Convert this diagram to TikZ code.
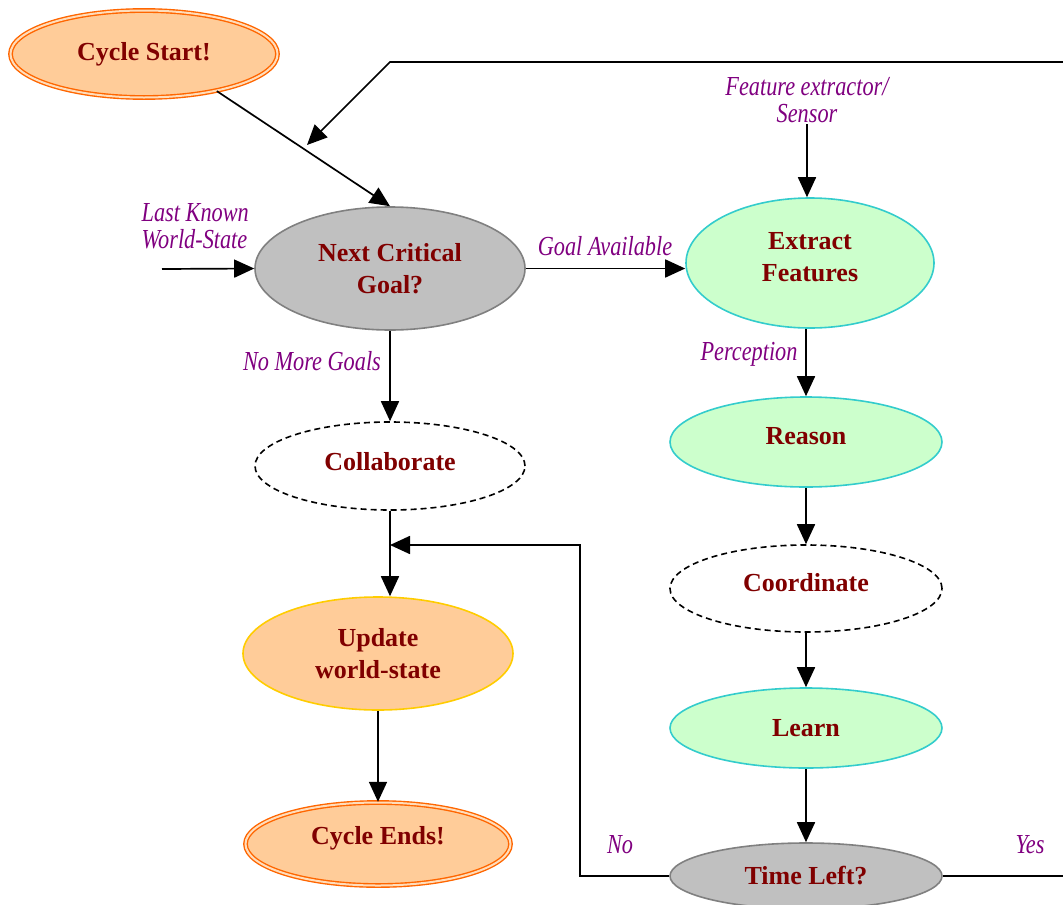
\documentclass[tikz,border=0pt]{standalone}
\usepackage{fontspec}
\setmainfont{Liberation Serif}
\newfontfamily\lblfont[FakeStretch=0.81]{Liberation Serif}
\usetikzlibrary{shapes.geometric,arrows.meta}

\definecolor{nodetext}{HTML}{800000}
\definecolor{lbltext}{HTML}{800080}
\definecolor{termline}{HTML}{FF6600}
\definecolor{termfill}{HTML}{FFCC99}
\definecolor{termgap}{HTML}{FFDDBB}
\definecolor{greenfill}{HTML}{CCFFCC}
\definecolor{greenline}{HTML}{33CCCC}
\definecolor{grayfill}{HTML}{C0C0C0}
\definecolor{grayline}{HTML}{808080}
\definecolor{updline}{HTML}{FFCC00}

\begin{document}
\begin{tikzpicture}[x=1pt,y=-1pt,
  every node/.style={font=\bfseries\fontsize{26}{32}\selectfont, text=nodetext, align=center},
  state/.style={ellipse, inner sep=0pt, line width=1.6pt},
  terminal/.style={state, draw=termline, fill=termfill, line width=1.4pt,
                   double=termgap, double distance=2pt},
  activity/.style={state, draw=greenline, fill=greenfill},
  decision/.style={state, draw=grayline, fill=grayfill},
  update/.style={state, draw=updline, fill=termfill},
  optional/.style={state, draw=black, dash pattern=on 6pt off 4pt, fill=white},
  textup/.style={text depth=#1},
  lbl/.style={font=\lblfont\itshape\fontsize{27.5}{27}\selectfont, text=lbltext, inner sep=1.5pt},
  link/.style={line width=1.7pt, draw=black},
  arr/.style={link, -{Triangle[length=20pt,width=18pt]}},
]
\clip (0,0) rectangle (1063,905);

% --- left column ---
\node[terminal, minimum width=267pt, minimum height=87pt] (start) at (144,54) {Cycle Start!};
\node[decision, minimum width=270pt, minimum height=123pt] (next) at (390,268.5) {Next Critical\\Goal?};
\node[optional, minimum width=270pt, minimum height=88pt, textup=10pt] (collab) at (390,466) {Collaborate};
\node[update, minimum width=270pt, minimum height=113pt] (upd) at (378,653.5) {Update\\world-state};
\node[terminal, minimum width=265pt, minimum height=83pt, textup=17pt] (ends) at (378,844) {Cycle Ends!};

% --- right column ---
\node[activity, minimum width=248pt, minimum height=130pt, textup=12pt] (ext) at (810,263) {Extract\\Features};
\node[activity, minimum width=272pt, minimum height=90pt, textup=12pt] (reason) at (806,442) {Reason};
\node[optional, minimum width=272pt, minimum height=87pt, textup=13pt] (coord) at (806,588.5) {Coordinate};
\node[activity, minimum width=272pt, minimum height=80pt] (learn) at (806,728) {Learn};
\node[decision, minimum width=272pt, minimum height=66pt] (time) at (806,876) {Time Left?};

% --- edge labels ---
\node[lbl, anchor=west, align=left] (lastknown) at (140,226) {Last Known\\World-State};
\node[lbl] (goalav) at (605,246) {Goal Available};
\node[lbl] (fe) at (807,100) {Feature extractor/\\Sensor};
\node[lbl] (percep) at (749,354) {Perception};
\node[lbl] (nomore) at (312,361) {No More Goals};
\node[lbl] (nolbl) at (620,845) {No};
\node[lbl] (yeslbl) at (1030,845) {Yes};

% --- free ends of connectors ---
\coordinate (lkstart) at (162,269);
\coordinate (topright) at (1065,62);
\coordinate (topbend) at (390,62);
\coordinate (toptip) at (307,145);
\coordinate (nc1) at (580,876);
\coordinate (nc2) at (580,545);
\coordinate (yesend) at (1065,876);

% --- connectors ---
\draw[arr] (start.-27) -- (next.north);
\draw[arr] (topright) -- (topbend) -- (toptip);
\draw[arr] (lkstart) -- (next.west);
\draw[arr] (next.east) -- (next.east -| ext.west);
\draw[arr] (fe.south) -- (fe.south |- ext.north);
\draw[arr] (reason.north |- ext.south) -- (reason.north);
\draw[arr] (reason) -- (coord);
\draw[arr] (coord) -- (learn);
\draw[arr] (learn) -- (time);
\draw[arr] (next) -- (collab);
\draw[arr] (collab.south) -- (collab.south |- upd.north);
\draw[arr] (upd.south) -- (upd.south |- ends.north);
\draw[arr] (time.west) -- (nc1) -- (nc2) -- (nc2 -| collab.south);
\draw[link] (time.east) -- (yesend);
\end{tikzpicture}
\end{document}
